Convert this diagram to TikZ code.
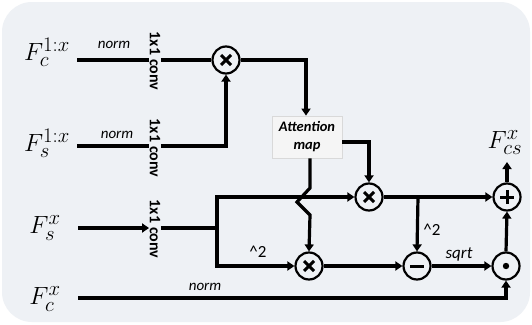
\documentclass[tikz,border=0pt]{standalone}
\usepackage{fontspec}
\newfontfamily\calfont{Carlito}
\usetikzlibrary{arrows.meta}
\definecolor{bgc}{RGB}{238,241,245}
\begin{document}
\begin{tikzpicture}[x=1pt,y=-1pt,
  ln/.style={line width=3.2pt},
  arr/.style={ln,-{Triangle[length=7pt,width=9pt]}},
  op/.style={circle,draw,line width=2.2pt,minimum size=27pt,inner sep=0pt,fill=bgc},
  sym/.style={line width=3pt},
  conv/.style={rotate=-90,font=\calfont\bfseries\fontsize{16}{16}\selectfont,inner sep=0.5pt},
  small/.style={font=\calfont\itshape\fontsize{15}{16}\selectfont,inner sep=1pt},
  flab/.style={font=\fontsize{28}{30}\selectfont,inner sep=0pt},
  attbox/.style={draw=black!15,fill=black!4,line width=0.8pt,minimum width=70pt,minimum height=42pt,inner sep=1pt,align=center,font=\calfont\bfseries\itshape\fontsize{14.5}{18}\selectfont}
]
\fill[white] (0,0) rectangle (532,324);
\useasboundingbox (0,0) rectangle (532,324);
\fill[bgc,rounded corners=30pt] (2,2) rectangle (530,322);

% labels
\node[flab] (fca) at (47,52) {$F_c^{1:x}$};
\node[flab] (fsa) at (47,143) {$F_s^{1:x}$};
\node[flab] (fsx) at (45,228) {$F_s^{x}$};
\node[flab] (fcx) at (45,299) {$F_c^{x}$};
\node[flab,anchor=south] (fcs) at (505,155) {$F_{cs}^{x}$};

% conv nodes
\node[conv] (c1) at (155,61) {1x1 conv};
\node[conv] (c2) at (155,148) {1x1 conv};
\node[conv] (c3) at (155,229) {1x1 conv};

% operators
\node[op] (o1) at (226,60) {};
\node[op] (o2) at (369,197) {};
\node[op] (o3) at (309,266) {};
\node[op] (pl) at (507,197) {};
\node[op] (mi) at (417,266) {};
\node[op] (dt) at (506,266) {};

\foreach \n in {o1,o2,o3}{
  \draw[sym] ([shift={(-5,-5)}]\n.center) -- ([shift={(5,5)}]\n.center);
  \draw[sym] ([shift={(-5,5)}]\n.center) -- ([shift={(5,-5)}]\n.center);
}
\draw[sym] ([shift={(-7,0)}]pl.center) -- ([shift={(7,0)}]pl.center);
\draw[sym] ([shift={(0,-7)}]pl.center) -- ([shift={(0,7)}]pl.center);
\draw[sym] ([shift={(-7,0)}]mi.center) -- ([shift={(7,0)}]mi.center);
\fill (dt.center) circle (3.2pt);

\node[attbox] (att) at (307,137) {Attention\\map};

% coordinates
\coordinate (s1) at (77,60);
\coordinate (s2) at (77,146);
\coordinate (s3) at (78,228);
\coordinate (s4) at (78,298);
\coordinate (br) at (217,228);
\coordinate (br2) at (418,197);
\coordinate (top) at (507,162);

% connectors
\draw[ln] (s1) -- (c1.south |- s1);
\draw[ln] (c1.north |- s1) -- (o1.west);
\draw[ln] (s2) -- (c2.south |- s2);
\draw[arr] (c2.north |- s2) -| (o1.south);
\draw[arr] (o1.east) -| ([xshift=-1pt]att.north);
\draw[arr] (att.east |- 0,142) -| (o2.north);
\draw[arr] (att.south -| 310,0) -- (310,188) -- (297,202) -- (310,215) -- (o3.north);
\draw[arr] (s3) -- (c3.south |- s3);
\draw[ln] (c3.north |- s3) -- (br);
\draw[arr] (br) |- (o2.west);
\draw[arr] (br) |- (o3.west);
\draw[arr] (o2.east) -- (pl.west);
\draw[arr] (br2) -- (mi.north);
\draw[arr] (o3.east) -- (mi.west);
\draw[arr] (mi.east) -- (dt.west);
\draw[arr] (dt.north) -- (pl.south);
\draw[arr] (pl.north) -- (top);
\draw[arr] (s4) -| (dt.south);

% small labels
\node[small] (n1) at (114,45) {norm};
\node[small] (n2) at (117,135) {norm};
\node[small] (n3) at (205,287) {norm};
\node[small,font=\calfont\fontsize{17}{17}\selectfont] (p1) at (258,252) {\^{}2};
\node[small,font=\calfont\fontsize{17}{17}\selectfont] (p2) at (432,230) {\^{}2};
\node[small,font=\calfont\itshape\fontsize{17}{17}\selectfont] (sq) at (459,254) {sqrt};
\end{tikzpicture}
\end{document}
